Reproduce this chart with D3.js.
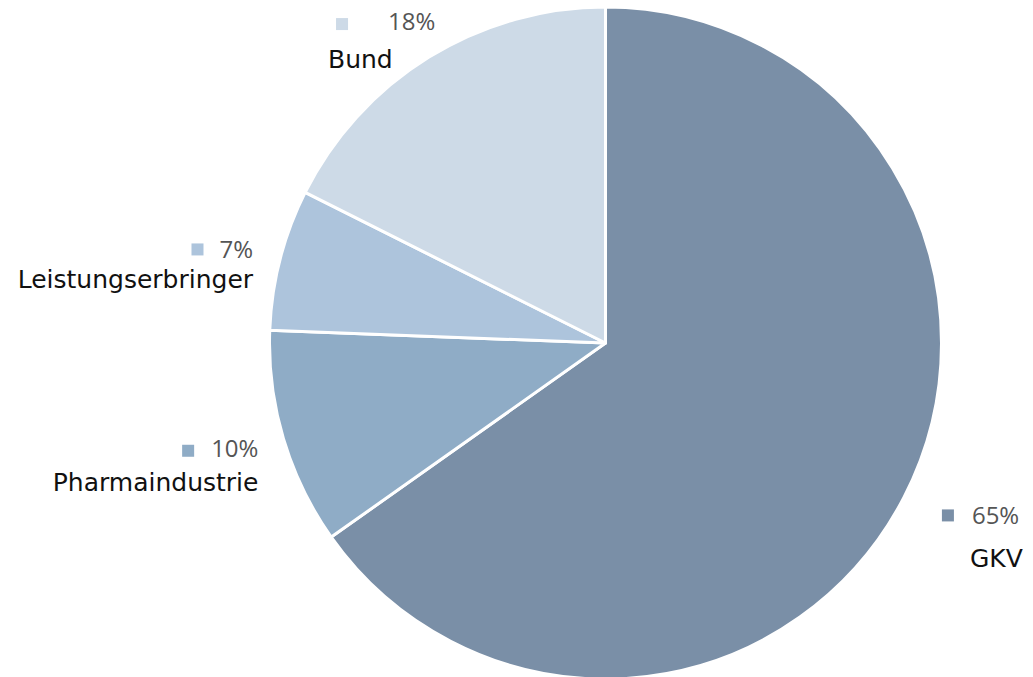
<!DOCTYPE html>
<html><head><meta charset="utf-8">
<script src="https://cdn.jsdelivr.net/npm/d3@7"></script>
<style>html,body{margin:0;padding:0;background:#fff;}svg{display:block;}</style>
</head><body>
<svg id="chart" width="1033" height="677"></svg>
<script>
const categories = ["GKV", "Pharmaindustrie", "Leistungserbringer", "Bund"];
const values = [65.2, 10.4, 6.8, 17.6];
const percentLabels = ["65%", "10%", "7%", "18%"];
const colors = ["#7a8fa7", "#8facc6", "#adc4dc", "#cddae7"];

const svg = d3.select("#chart");
const cx = 605.5, cy = 343, r = 336;
const data = categories.map((c, i) => ({name: c, value: values[i], label: percentLabels[i], color: colors[i]}));

const pie = d3.pie().value(d => d.value).sort(null);
const arc = d3.arc().innerRadius(0).outerRadius(r);
const arcs = pie(data);

const g = svg.append("g").attr("transform", `translate(${cx},${cy})`);
g.selectAll("path").data(arcs).join("path")
  .attr("d", arc).attr("fill", d => d.data.color)
  .attr("stroke", "#fff").attr("stroke-width", 3).attr("stroke-linejoin", "round");

// label layout: offsets relative to the arc's mid point on the rim
const layout = [
  {pctX: 68, pctY: 27, pctAnchor: "start", nameX: 66, nameY: 70, nameAnchor: "start", sqGap: 30},
  {pctX: -25, pctY: 18, pctAnchor: "end", nameX: -25, nameY: 52, nameAnchor: "end", sqGap: 29},
  {pctX: -27, pctY: -1, pctAnchor: "end", nameX: -27, nameY: 29, nameAnchor: "end", sqGap: 28},
  {pctX: -41, pctY: -27, pctAnchor: "start", nameX: -101, nameY: 11, nameAnchor: "start", sqGap: 52}
];
const sqDy = [-15, -12, -15, -12];
const nameFont = "'DejaVu Sans', Verdana, sans-serif";
const pctFont = "'Open Sans', sans-serif";
arcs.forEach((a, i) => {
  const mid = (a.startAngle + a.endAngle) / 2;
  const px = cx + Math.sin(mid) * r, py = cy - Math.cos(mid) * r;
  const L = layout[i];
  const lg = svg.append("g");
  const pct = lg.append("text").attr("x", px + L.pctX).attr("y", py + L.pctY)
    .attr("text-anchor", L.pctAnchor)
    .attr("font-family", pctFont).attr("font-size", 24).attr("fill", "#555")
    .text(a.data.label);
  const pw = pct.node().getComputedTextLength();
  lg.append("text").attr("x", px + L.nameX).attr("y", py + L.nameY)
    .attr("text-anchor", L.nameAnchor)
    .attr("font-family", nameFont).attr("font-size", 25).attr("fill", "#111")
    .text(a.data.name);
  const pctLeft = L.pctAnchor === "end" ? px + L.pctX - pw : px + L.pctX;
  const sq = 12;
  lg.insert("rect", "text")
    .attr("x", pctLeft - L.sqGap).attr("y", py + L.pctY + sqDy[i])
    .attr("width", sq).attr("height", sq)
    .attr("fill", a.data.color);
});
</script>
</body></html>
